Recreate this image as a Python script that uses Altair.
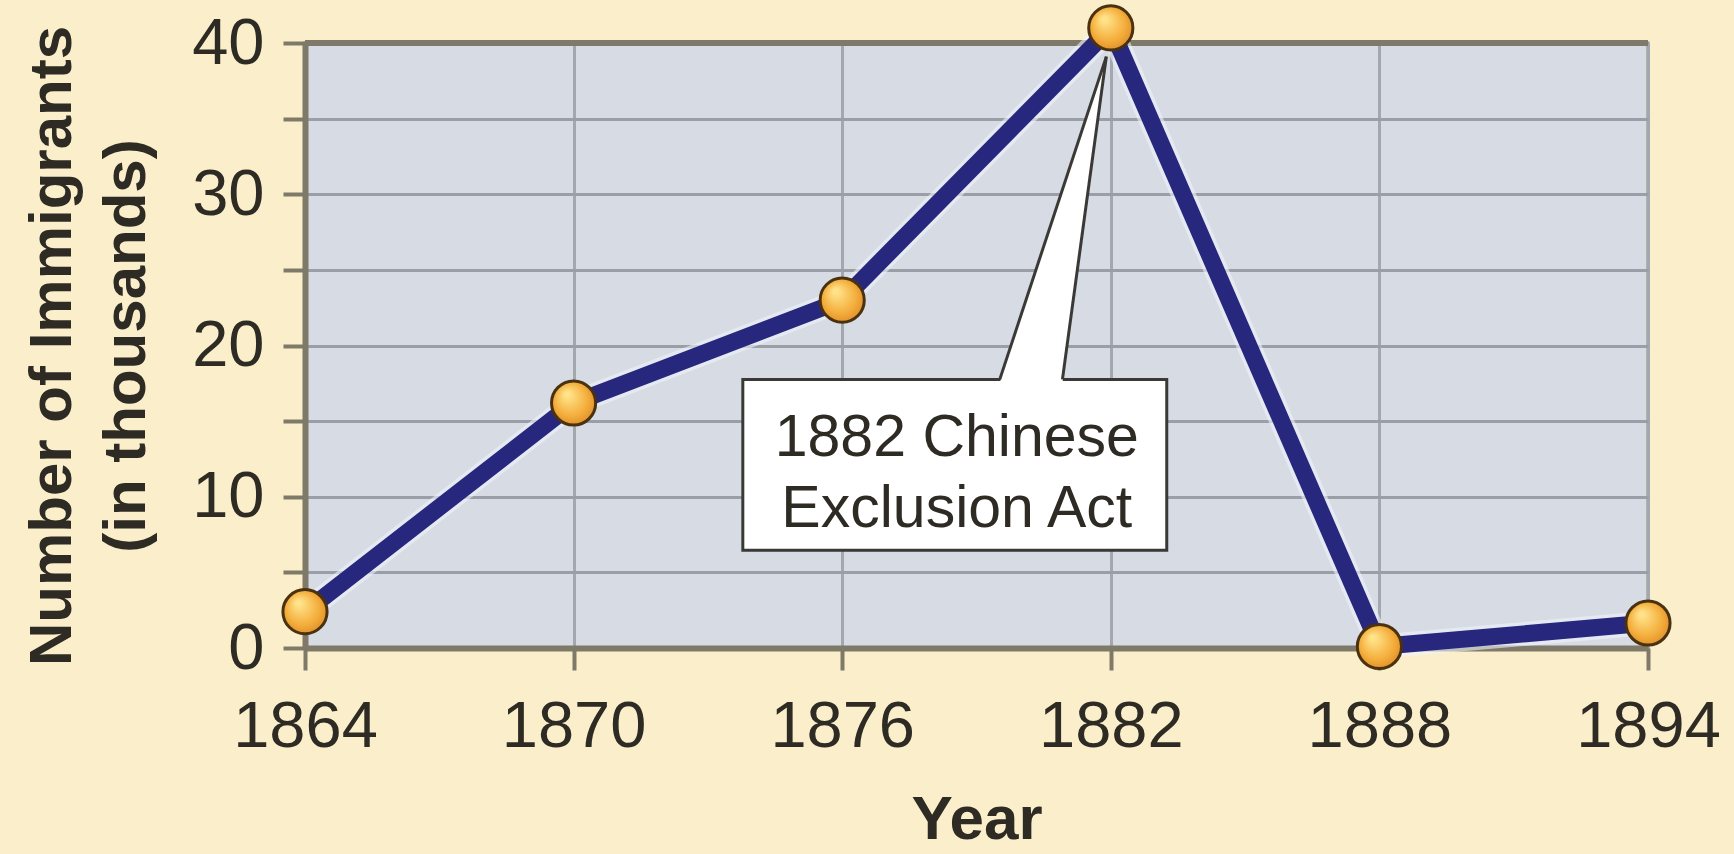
import altair as alt
import pandas as pd

# ---- data ----
years = [1864, 1870, 1876, 1882, 1888, 1894]
immigrants = [2.4, 16.2, 23.0, 41.0, 0.1, 1.65]   # thousands

x_ticks = [1864, 1870, 1876, 1882, 1888, 1894]
y_ticks = [0, 5, 10, 15, 20, 25, 30, 35, 40]

note_lines = ["1882 Chinese", "Exclusion Act"]
note_line_x = [1878.56, 1878.56]
note_line_y = [12.67, 7.99]

box_x = [1873.78]
box_x2 = [1883.25]
box_y = [17.76]
box_y2 = [6.47]

# callout wedge: two base corners and the tip (in data units)
wedge_y = [17.55, 39.1]
wedge_x_left = [1879.52, 1881.9]
wedge_x_right = [1880.92, 1881.9]

# ---- styling ----
FONT = "Liberation Sans, Arial, Helvetica, sans-serif"
BG = "#FBEFCB"
PLOT_BG = "#D7DBE3"
AXIS_DARK = "#7E7968"
NAVY = "#27277E"
TEXT = "#2E2B24"

W, H = 1343, 605

df = pd.DataFrame({"year": years, "value": immigrants})

xscale = alt.Scale(domain=[1864, 1894], nice=False, zero=False)
yscale = alt.Scale(domain=[0, 40], nice=False)

x_axis = alt.Axis(
    values=x_ticks, format="d", title="Year",
    labelFont=FONT, labelFontSize=65, labelColor=TEXT, labelPadding=25,
    labelFlush=False,
    titleFont=FONT, titleFontSize=62, titleFontWeight="bold", titleColor=TEXT,
    titleY=190, titleBaseline="alphabetic",
    tickSize=22, tickWidth=4, tickColor=AXIS_DARK,
    domainColor=AXIS_DARK, domainWidth=6,
    grid=True, gridColor="#A3A7AE", gridWidth=3,
)
y_axis = alt.Axis(
    values=y_ticks,
    labelExpr="datum.value % 10 == 0 ? datum.label : ''",
    title=["Number of Immigrants", "(in thousands)"],
    labelFont=FONT, labelFontSize=65, labelColor=TEXT, labelPadding=19,
    labelBaseline="middle", labelFlush=False,
    titleFont=FONT, titleFontSize=60, titleFontWeight="bold", titleColor=TEXT,
    titleAngle=270, titleX=-235, titleBaseline="alphabetic", titleLineHeight=74,
    tickSize=22, tickWidth=4, tickColor=AXIS_DARK,
    domainColor=AXIS_DARK, domainWidth=6,
    grid=True, gridColor="#9A9EA6", gridWidth=3,
)

base = alt.Chart(df).encode(
    x=alt.X("year:Q", scale=xscale, axis=x_axis),
    y=alt.Y("value:Q", scale=yscale, axis=y_axis),
)

top_rule = alt.Chart(pd.DataFrame({"v": [40]})).mark_rule(
    color=AXIS_DARK, strokeWidth=6
).encode(y=alt.Y("v:Q", scale=yscale))

halo = base.mark_line(color="#EEF1FB", strokeWidth=24, strokeJoin="round", opacity=0.6)
line = base.mark_line(color=NAVY, strokeWidth=17, strokeJoin="miter")

box_df = pd.DataFrame({"x": box_x, "x2": box_x2, "y": box_y, "y2": box_y2})
box = alt.Chart(box_df).mark_rect(
    fill="white", stroke="#3A3936", strokeWidth=3
).encode(
    x=alt.X("x:Q", scale=xscale), x2="x2:Q",
    y=alt.Y("y:Q", scale=yscale), y2="y2:Q",
)

wedge_df = pd.DataFrame({"y": wedge_y, "xl": wedge_x_left, "xr": wedge_x_right})
wedge = alt.Chart(wedge_df).mark_area(
    fill="white", orient="horizontal", opacity=1
).encode(
    y=alt.Y("y:Q", scale=yscale),
    x=alt.X("xl:Q", scale=xscale), x2="xr:Q",
)

edge_df = pd.DataFrame({
    "x": [wedge_x_left[0], wedge_x_right[0]],
    "y": [box_y[0], box_y[0]],
    "x2": [wedge_x_left[1], wedge_x_right[1]],
    "y2": [wedge_y[1], wedge_y[1]],
})
edges = alt.Chart(edge_df).mark_rule(color="#3A3936", strokeWidth=3).encode(
    x=alt.X("x:Q", scale=xscale), x2="x2:Q",
    y=alt.Y("y:Q", scale=yscale), y2="y2:Q",
)

note_df = pd.DataFrame({"t": note_lines, "x": note_line_x, "y": note_line_y})
note = alt.Chart(note_df).mark_text(
    font=FONT, fontSize=59, color=TEXT, align="center", baseline="alphabetic"
).encode(
    x=alt.X("x:Q", scale=xscale), y=alt.Y("y:Q", scale=yscale), text="t:N"
)

gold = alt.RadialGradient(
    gradient="radial",
    x1=0.35, y1=0.3, r1=0.05, x2=0.5, y2=0.5, r2=0.6,
    stops=[
        alt.GradientStop(offset=0, color="#FFE38A"),
        alt.GradientStop(offset=0.6, color="#F4AE3C"),
        alt.GradientStop(offset=1, color="#D98424"),
    ],
)
points = base.mark_point(
    shape="circle", filled=True, fill=gold, stroke="#4A3210",
    strokeWidth=3, size=1950, opacity=1
)

chart = alt.layer(
    top_rule, halo, line, box, wedge, edges, note, points
).properties(
    width=W, height=H,
    autosize=alt.AutoSizeParams(type="none"),
    padding={"left": 305, "top": 43, "right": 86, "bottom": 206},
    background=BG,
).configure_view(
    fill=PLOT_BG, stroke="#8C8B84", strokeWidth=3
)

chart.save("out.html", embed_options={"renderer": "svg", "actions": False})
